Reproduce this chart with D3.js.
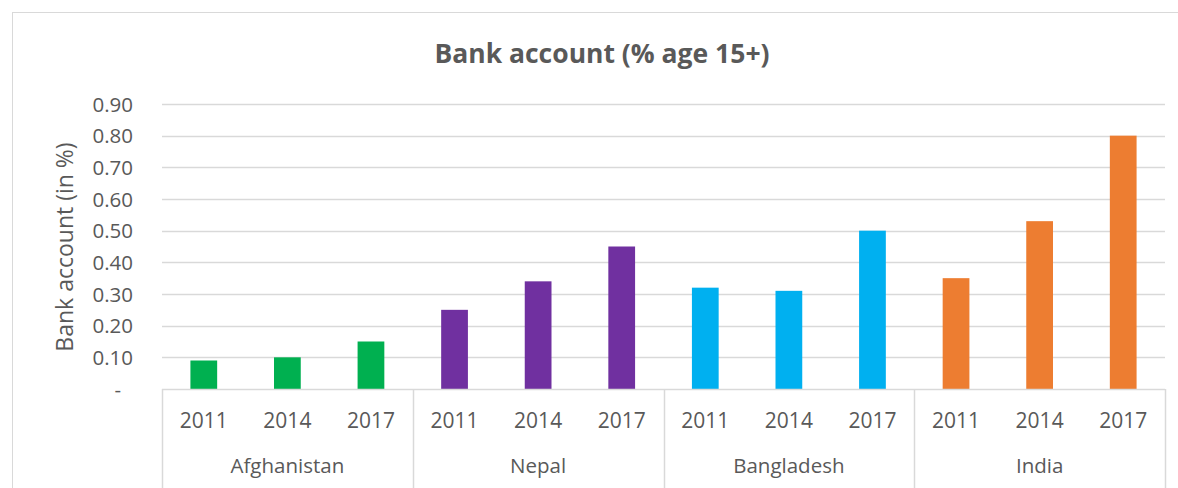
<!DOCTYPE html>
<html>
<head>
<meta charset="utf-8">
<script src="https://cdn.jsdelivr.net/npm/d3@7"></script>
<style>
  html, body { margin: 0; padding: 0; background: #fff; }
  svg { display: block; font-family: "Open Sans", "Noto Sans", sans-serif; }
</style>
</head>
<body>
<svg id="chart" width="1178" height="488"></svg>
<script>
// Account ownership share by country and survey year
const countries = ["Afghanistan", "Nepal", "Bangladesh", "India"];
const years = ["2011", "2014", "2017"];
const afghanistan = [0.09, 0.10, 0.15];
const nepal = [0.25, 0.34, 0.45];
const bangladesh = [0.32, 0.31, 0.50];
const india = [0.35, 0.53, 0.80];
const countryColors = ["#00B050", "#7030A0", "#00B0F0", "#ED7D31"];
const yTicks = [0, 0.1, 0.2, 0.3, 0.4, 0.5, 0.6, 0.7, 0.8, 0.9];

const seriesByCountry = [afghanistan, nepal, bangladesh, india];
const rows = [];
countries.forEach((c, ci) => {
  years.forEach((yr, yi) => {
    rows.push({ country: c, year: yr, value: seriesByCountry[ci][yi], color: countryColors[ci] });
  });
});

const svg = d3.select("#chart");
const W = 1178, H = 488;
const plotLeft = 162, plotRight = 1165, plotTop = 104, plotBottom = 389;
const textColor = "#595959";

// chart frame
svg.append("rect")
  .attr("x", 12.5).attr("y", 12.5)
  .attr("width", W + 10).attr("height", H + 10)
  .attr("fill", "none").attr("stroke", "#d9d9d9").attr("stroke-width", 1);

svg.append("text")
  .attr("x", 602).attr("y", 63)
  .attr("text-anchor", "middle")
  .attr("font-size", 26.5).attr("font-weight", "bold")
  .attr("fill", textColor)
  .text("Bank account (% age 15+)");

const y = d3.scaleLinear().domain([0, 0.9]).range([plotBottom, plotTop]);
const xGroup = d3.scaleBand().domain(countries).range([plotLeft, plotRight]).padding(0);
const xYear = d3.scaleBand().domain(years).range([0, xGroup.bandwidth()]).paddingInner(0.68).paddingOuter(0.34);

// horizontal gridlines
svg.append("g")
  .selectAll("line")
  .data(yTicks.filter(t => t > 0))
  .join("line")
  .attr("x1", plotLeft).attr("x2", plotRight)
  .attr("y1", d => Math.round(y(d)) + 0.5).attr("y2", d => Math.round(y(d)) + 0.5)
  .attr("stroke", "#d9d9d9").attr("stroke-width", 1.5);

// y axis labels
const yAxis = d3.axisLeft(y)
  .tickValues(yTicks)
  .tickSize(0)
  .tickPadding(0)
  .tickFormat(d => d === 0 ? "-" : d3.format(".2f")(d));
const gy = svg.append("g").attr("transform", `translate(${plotLeft - 29},0)`).call(yAxis);
gy.select(".domain").remove();
gy.selectAll("text")
  .attr("font-size", 20.5).attr("fill", textColor)
  .attr("font-family", '"Open Sans", "Noto Sans", sans-serif')
  .attr("dy", "0.35em")
  .attr("dx", d => d === 0 ? -12 : 0);

svg.append("text")
  .attr("transform", `translate(73,247) rotate(-90)`)
  .attr("text-anchor", "middle")
  .attr("font-size", 23).attr("fill", textColor)
  .text("Bank account (in %)");

// bars
svg.append("g")
  .selectAll("rect")
  .data(rows)
  .join("rect")
  .attr("x", d => xGroup(d.country) + xYear(d.year))
  .attr("width", xYear.bandwidth())
  .attr("y", d => y(d.value))
  .attr("height", d => y(0) - y(d.value))
  .attr("fill", d => d.color);

// baseline
svg.append("line")
  .attr("x1", plotLeft).attr("x2", plotRight)
  .attr("y1", plotBottom + 0.5).attr("y2", plotBottom + 0.5)
  .attr("stroke", "#d9d9d9").attr("stroke-width", 1.5);

// group separators for the two-level category axis
const seps = countries.map(c => xGroup(c)).concat([plotRight]);
svg.append("g")
  .selectAll("line")
  .data(seps)
  .join("line")
  .attr("x1", d => Math.round(d) + 0.5).attr("x2", d => Math.round(d) + 0.5)
  .attr("y1", plotBottom).attr("y2", H)
  .attr("stroke", "#d9d9d9").attr("stroke-width", 1.5);

// year labels
svg.append("g")
  .selectAll("text")
  .data(rows)
  .join("text")
  .attr("x", d => xGroup(d.country) + xYear(d.year) + xYear.bandwidth() / 2)
  .attr("y", 428)
  .attr("text-anchor", "middle")
  .attr("font-size", 21).attr("fill", textColor)
  .text(d => d.year);

// country labels
svg.append("g")
  .selectAll("text")
  .data(countries)
  .join("text")
  .attr("x", d => xGroup(d) + xGroup.bandwidth() / 2)
  .attr("y", 473)
  .attr("text-anchor", "middle")
  .attr("font-size", 20.5).attr("fill", textColor)
  .text(d => d);
</script>
</body>
</html>
